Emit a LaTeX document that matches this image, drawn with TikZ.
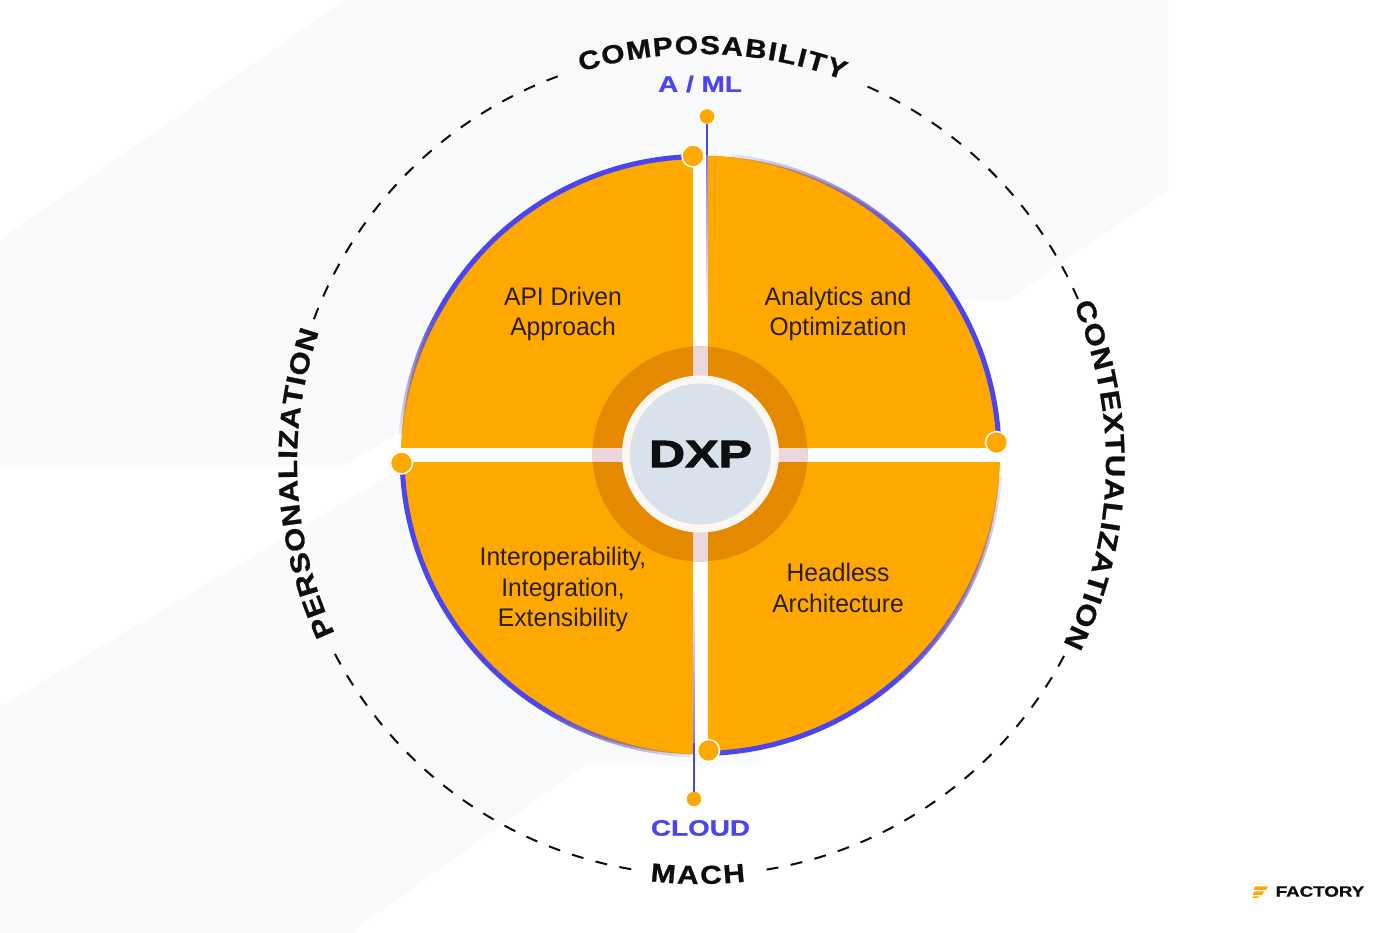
\documentclass[tikz,border=0pt]{standalone}
\usepackage{fontspec}
\usetikzlibrary{decorations.text}
\setmainfont{Liberation Sans}
\newfontfamily\bodyfont[FakeStretch=0.97]{Liberation Sans}
\newfontfamily\ringfont[FakeStretch=1.15,FakeBold=1.0]{Liberation Sans Bold}
\newfontfamily\widefont[FakeStretch=1.25,FakeBold=0.8]{Liberation Sans Bold}
\newfontfamily\dxpfont[FakeStretch=1.32,FakeBold=2.6]{Liberation Sans Bold}
\definecolor{bgtint}{HTML}{F8FAFB}
\definecolor{amber}{HTML}{FFA800}
\definecolor{amberdark}{HTML}{E58A00}
\definecolor{royal}{HTML}{4A45F0}
\definecolor{pinkbar}{HTML}{EBD6DC}
\definecolor{hubfill}{HTML}{D9E2EA}
\definecolor{hubring}{HTML}{FCF7F2}
\definecolor{ink}{HTML}{0D0E10}
\definecolor{bodyink}{HTML}{2A1E08}
\tikzset{
  quadtext/.style={font=\bodyfont\fontsize{25.4}{30.5}\selectfont,text=bodyink,align=center,inner sep=0pt},
  bluelabel/.style={font=\widefont\fontsize{22.3}{24}\selectfont,text=royal,inner sep=0pt},
  bigdot/.style={circle,fill=amber,draw=white,line width=1.5pt,minimum size=22pt,inner sep=0pt},
  smalldot/.style={circle,fill=amber,minimum size=14.5pt,inner sep=0pt},
  dashring/.style={draw=ink,line width=2pt,dash pattern=on 12pt off 12.5pt},
  ringtext/.style={decorate,decoration={text along path,text align={fit to path},text={#1}}}
}
% solid blue rim from a to b, fading from b to c
\newcommand{\rimarc}[3]{%
  \draw[royal,line width=5pt] ([shift={(#1:298.5)}]700.5,478) arc[start angle=#1,end angle=#2,radius=298.5];
  \foreach \k in {0,...,23}{%
    \pgfmathsetmacro{\aa}{#2+(#3-#2)*\k/24}
    \pgfmathsetmacro{\ab}{#2+(#3-#2)*(\k+1)/24}
    \pgfmathsetmacro{\op}{1-(\k+0.5)/24*0.9}
    \pgfmathsetmacro{\wd}{5-1.5*\k/24}
    \pgfmathsetmacro{\rr}{298.5+2.2*\k/24}
    \draw[royal,opacity=\op,line width=\wd pt] ([shift={(\aa:\rr)}]700.5,478) arc[start angle=\aa,end angle=\ab,radius=\rr];
  }%
}
\begin{document}
\begin{tikzpicture}[x=1pt,y=1pt]
\useasboundingbox (0,0) rectangle (1400,933);
\fill[white] (0,0) rectangle (1400,933);
% background bands
\fill[bgtint] (0,693) -- (345,933) -- (1168,933) -- (1168,743) -- (1008,633) -- (620,633) -- (345,468) -- (0,468) -- cycle;
\fill[bgtint] (0,226) -- (600,583) -- (760,583) -- (760,168) -- (585,168) -- (350,0) -- (0,0) -- cycle;
% dashed ring
\draw[dashring] ([shift={(110.2:412)}]700,470) arc[start angle=110.2,end angle=159.6,radius=412];
\draw[dashring] ([shift={(207.6:412)}]700,470) arc[start angle=207.6,end angle=260.4,radius=412];
\draw[dashring] ([shift={(279.3:412)}]700,470) arc[start angle=279.3,end angle=332.1,radius=412];
\draw[dashring] ([shift={(66:412)}]700,470) arc[start angle=66,end angle=23.4,radius=412];
% ring labels
\path[ringtext={|\ringfont\fontsize{26}{26}\selectfont\color{ink}|COMPOSABILITY}] ([shift={(106.9:409)}]700,470) arc[start angle=106.9,end angle=69.5,radius=409];
\path[ringtext={|\ringfont\fontsize{27}{27}\selectfont\color{ink}|CONTEXTUALIZATION}] ([shift={(23:406)}]700,470) arc[start angle=23,end angle=-26.5,radius=406];
\path[ringtext={|\ringfont\fontsize{27}{27}\selectfont\color{ink}|PERSONALIZATION}] ([shift={(205:403)}]700,470) arc[start angle=205,end angle=161,radius=403];
\path[ringtext={|\ringfont\fontsize{26}{26}\selectfont\color{ink}|MACH}] ([shift={(263.2:421)}]700,470) arc[start angle=263.2,end angle=276.2,radius=421];
% disk
\node[circle,fill=amber,minimum size=599pt,inner sep=0pt] (disk) at (700.5,478) {};
\begin{scope}
  \clip (700.5,478) circle[radius=299.5];
  \fill[white] (693,150) rectangle (707.5,790);
  \fill[white] (395,471) rectangle (1005,485);
\end{scope}
% rims
\rimarc{92}{150}{176}
\rimarc{2}{42}{84}
\rimarc{182}{238}{268}
\rimarc{272}{309}{356}
% hub
\node[circle,fill=amberdark,minimum size=215pt,inner sep=0pt] (halo) at (700,479) {};
\begin{scope}
  \clip (700,479) circle[radius=107.5];
  \fill[pinkbar] (693,340) rectangle (707.5,620);
  \fill[pinkbar] (580,471) rectangle (820,485);
\end{scope}
\node[circle,fill=hubfill,draw=hubring,line width=8pt,minimum size=149pt,inner sep=0pt,font=\dxpfont\fontsize{38}{38}\selectfont,text=ink] (hub) at (700.5,479) {DXP};
% quadrant texts
\node[quadtext] (q1) at (563,619) {API Driven\\Approach};
\node[quadtext] (q2) at (838,619) {Analytics and\\Optimization};
\node[quadtext] (q3) at (563,343.5) {Interoperability,\\Integration,\\Extensibility};
\node[quadtext] (q4) at (838,345) {Headless\\Architecture};
% thin lines with small dots
\node[smalldot] (stop) at (707,816.5) {};
\node[smalldot] (sbot) at (694,134) {};
\coordinate (ltop) at (707,778);
\coordinate (lbot) at (694,190);
\draw[draw=royal,line width=2pt] (stop) -- (ltop);
\draw[draw=royal,line width=2pt] (sbot) -- (lbot);
\foreach \k in {0,...,14}{%
  \pgfmathsetmacro{\op}{0.7-\k/15*0.65}
  \draw[royal,opacity=\op,line width=1.5pt] (707,778-10*\k) -- (707,768-10*\k);
  \draw[royal,opacity=\op,line width=1.5pt] (694,190+10*\k) -- (694,200+10*\k);
}
\node[bigdot] (d1) at (693,777) {};
\node[bigdot] (d2) at (996.5,490.5) {};
\node[bigdot] (d3) at (401.5,470) {};
\node[bigdot] (d4) at (708.5,182.5) {};
% inner labels
\node[bluelabel] (aml) at (700,849) {A / ML};
\node[bluelabel] (cloud) at (700.5,105) {CLOUD};
% logo
\fill[amber] (1255,46.5) -- (1268,46.5) -- (1266,43) -- (1253.5,43) -- cycle;
\fill[amber] (1254,41.5) -- (1264,41.5) -- (1262,38) -- (1252.5,38) -- cycle;
\fill[amber] (1253,36.5) -- (1260,36.5) -- (1257,35) -- (1252,35) -- cycle;
\node[inner sep=0pt,font=\widefont\fontsize{15}{15}\selectfont,text=ink] (brand) at (1320,41.5) {FACTORY};
\end{tikzpicture}
\end{document}
